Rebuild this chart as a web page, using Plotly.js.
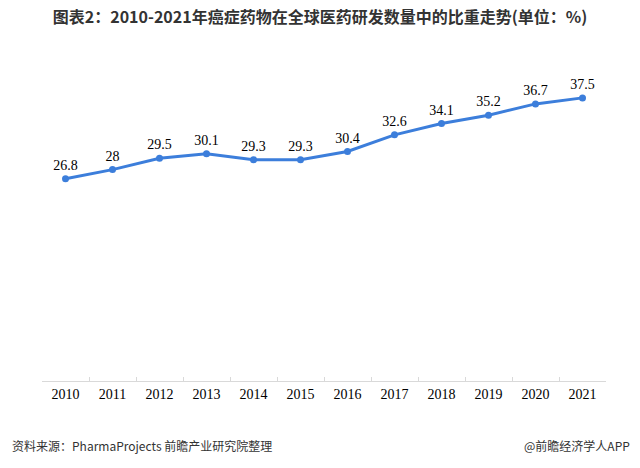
<!DOCTYPE html>
<html>
<head>
<meta charset="utf-8">
<script src="https://cdn.plot.ly/plotly-3.0.1.min.js"></script>
<style>html,body{margin:0;padding:0;background:#fff;}#chart{width:640px;height:468px;}</style>
</head>
<body>
<div id="chart"></div>
<script>
const years = ['2010','2011','2012','2013','2014','2015','2016','2017','2018','2019','2020','2021'];
const shares = [26.8, 28, 29.5, 30.1, 29.3, 29.3, 30.4, 32.6, 34.1, 35.2, 36.7, 37.5];
const labels = ['26.8','28','29.5','30.1','29.3','29.3','30.4','32.6','34.1','35.2','36.7','37.5'];

const trace = {
  x: years,
  y: shares,
  type: 'scatter',
  mode: 'lines+markers+text',
  text: labels,
  textposition: 'top center',
  textfont: {family: '"Liberation Serif", "Times New Roman", serif', size: 14, color: '#000'},
  line: {color: '#3c7edb', width: 3},
  marker: {color: '#3c7edb', size: 7},
  cliponaxis: false,
  hoverinfo: 'skip'
};

const layout = {
  width: 640, height: 468,
  margin: {l: 42, r: 34, t: 79, b: 87},
  paper_bgcolor: '#fff', plot_bgcolor: '#fff',
  showlegend: false,
  title: {
    text: '<b>图表2：2010-2021年癌症药物在全球医药研发数量中的比重走势(单位：%)</b>',
    font: {family: '"Noto Sans CJK SC", sans-serif', size: 16, color: '#333'},
    x: 0.5, xanchor: 'center', y: 0.962, yanchor: 'middle'
  },
  xaxis: {
    type: 'category',
    range: [-0.5, 11.5],
    showgrid: false,
    showline: true, linecolor: '#d9d9d9', linewidth: 1,
    ticks: 'inside', ticklen: 4, tickcolor: '#d9d9d9', tickson: 'boundaries',
    tickfont: {family: '"Liberation Serif", "Times New Roman", serif', size: 14, color: '#000'},
    zeroline: false, fixedrange: true
  },
  yaxis: {
    range: [0, 40],
    visible: false,
    showgrid: false, zeroline: false, fixedrange: true
  },
  annotations: [
    {text: '资料来源：PharmaProjects 前瞻产业研究院整理', xref: 'paper', yref: 'paper', x: -0.056, y: -0.215,
     xanchor: 'left', yanchor: 'middle', showarrow: false,
     font: {family: '"Noto Sans CJK SC", sans-serif', size: 12, color: '#333'}},
    {text: '@前瞻经济学人APP', xref: 'paper', yref: 'paper', x: 1.046, y: -0.215,
     xanchor: 'right', yanchor: 'middle', showarrow: false,
     font: {family: '"Noto Sans CJK SC", sans-serif', size: 12, color: '#333'}}
  ]
};

Plotly.newPlot('chart', [trace], layout, {displayModeBar: false, staticPlot: true});
</script>
</body>
</html>
